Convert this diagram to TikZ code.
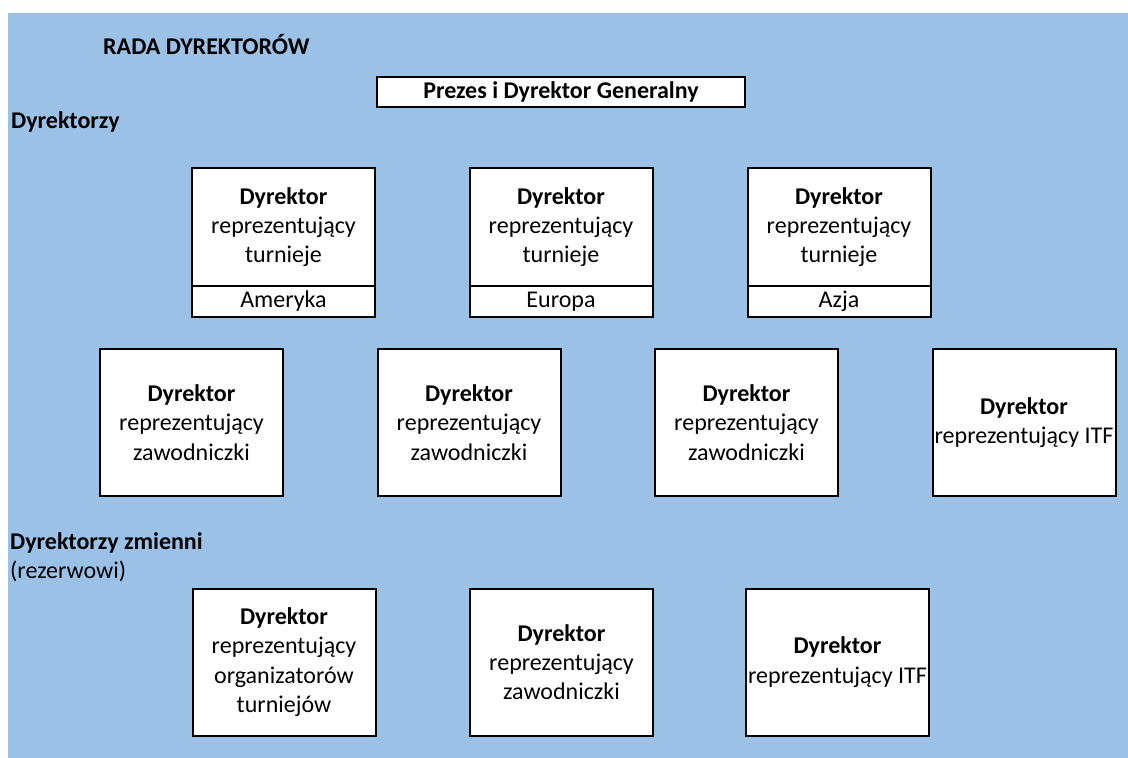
\documentclass[tikz,border=0pt]{standalone}
\usepackage{fontspec}
\setmainfont{Carlito}
\definecolor{bgblue}{HTML}{9BC2E6}
\begin{document}
\begin{tikzpicture}[x=1pt,y=-1pt,
  box/.style={draw, line width=2pt, fill=white, align=center, inner sep=0pt,
    font=\fontsize{24}{29.3}\selectfont},
  bigbox/.style={box, minimum width=183pt, minimum height=147pt},
  topcell/.style={box, minimum width=183pt, minimum height=118pt},
  lowcell/.style={box, minimum width=183pt, minimum height=31pt, anchor=north},
  lbl/.style={inner sep=0pt, font=\fontsize{24}{29.3}\selectfont},
]
\useasboundingbox (0,0) rectangle (1128,758);
\fill[bgblue] (8,13) rectangle (1128,758);

% headings
\node[lbl, anchor=base west] (rada) at (103,54) {\textbf{RADA DYREKTORÓW}};
\node[lbl, anchor=base west] (dyr) at (11,128) {\textbf{Dyrektorzy}};
\node[lbl, anchor=base west] (dyrz) at (10,549) {\textbf{Dyrektorzy zmienni}};
\node[lbl, anchor=base west] (rez) at (10,578) {(rezerwowi)};

% Prezes
\node[box, minimum width=368pt, minimum height=30pt] (prezes) at (561,91.5) {\textbf{Prezes i Dyrektor Generalny}};

% top row
\node[topcell] (t1) at (283.5,227) {\textbf{Dyrektor}\\reprezentujący\\turnieje};
\node[lowcell] (t1l) at ([yshift=2pt]t1.south) {Ameryka};
\node[topcell] (t2) at (561,227) {\textbf{Dyrektor}\\reprezentujący\\turnieje};
\node[lowcell] (t2l) at ([yshift=2pt]t2.south) {Europa};
\node[topcell] (t3) at (839,227) {\textbf{Dyrektor}\\reprezentujący\\turnieje};
\node[lowcell] (t3l) at ([yshift=2pt]t3.south) {Azja};

% middle row
\node[bigbox] (m1) at (191.5,422.5) {\textbf{Dyrektor}\\reprezentujący\\zawodniczki};
\node[bigbox] (m2) at (469,422.5) {\textbf{Dyrektor}\\reprezentujący\\zawodniczki};
\node[bigbox] (m3) at (746.5,422.5) {\textbf{Dyrektor}\\reprezentujący\\zawodniczki};
\node[bigbox] (m4) at (1024,422.5) {\textbf{Dyrektor}\\reprezentujący ITF};

% bottom row
\node[bigbox] (b1) at (284,662) {\textbf{Dyrektor}\\reprezentujący\\organizatorów\\turniejów};
\node[bigbox] (b2) at (561.5,662) {\textbf{Dyrektor}\\reprezentujący\\zawodniczki};
\node[bigbox] (b3) at (837.5,662) {\textbf{Dyrektor}\\reprezentujący ITF};
\end{tikzpicture}
\end{document}
